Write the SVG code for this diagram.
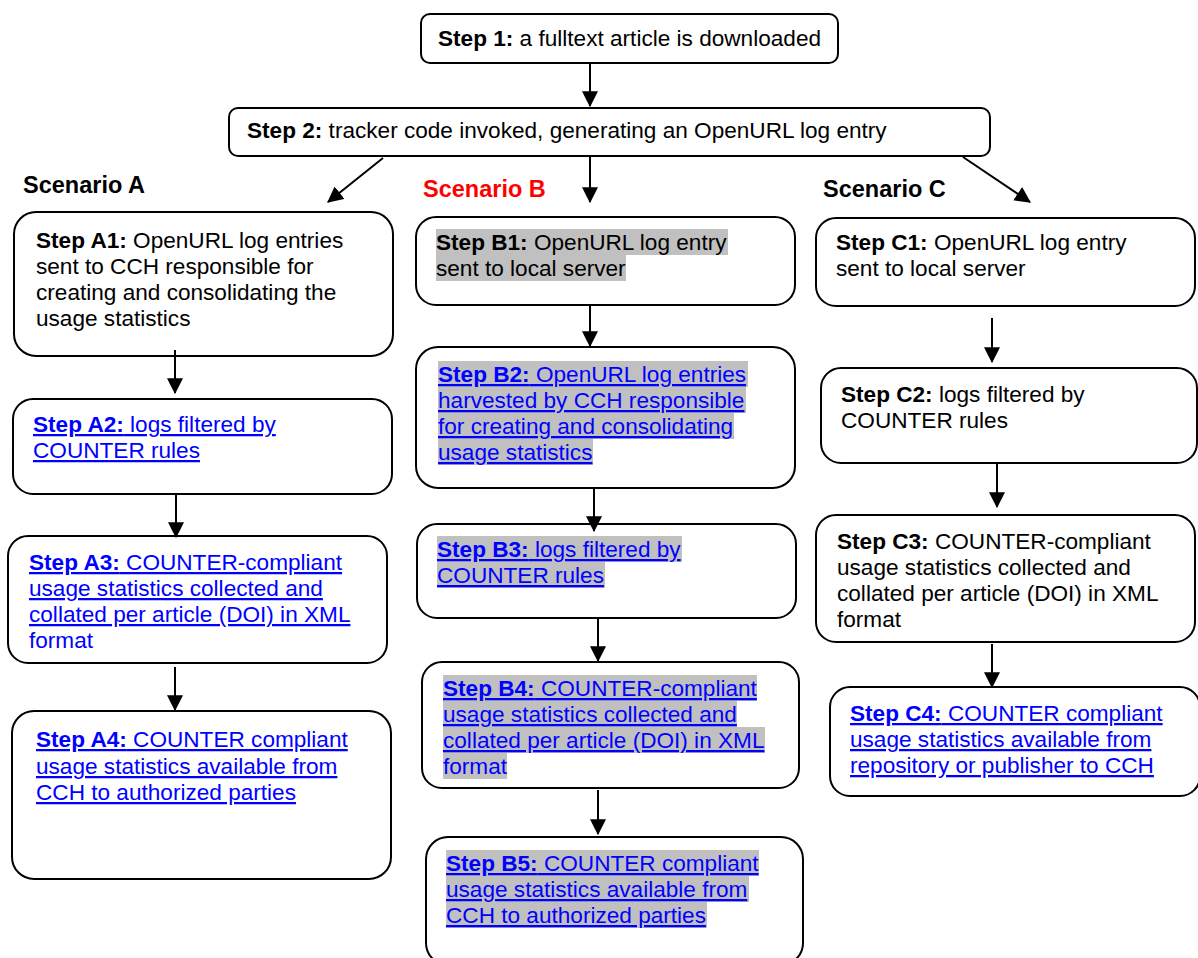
<svg xmlns="http://www.w3.org/2000/svg" width="1198" height="958" viewBox="0 0 1198 958">
<style>
.box{fill:#fff;stroke:#000;stroke-width:2}
.t{font-family:"Liberation Sans",Arial,sans-serif;font-size:22.6px;fill:#000}
.lnk{fill:#0000FF}
.u{text-decoration:underline}
.b{font-weight:bold}
.hl{fill:#C0C0C0}
.sc{font-family:"Liberation Sans",Arial,sans-serif;font-size:23.5px;font-weight:bold;fill:#000}
.conn line{stroke:#000;stroke-width:2;marker-end:url(#ah)}
</style>
<defs>
<marker id="ah" markerUnits="userSpaceOnUse" markerWidth="16" markerHeight="16" viewBox="0 0 14 14" refX="13" refY="7" orient="auto">
<path d="M0,0 L14,7 L0,14 Z" fill="#000"/>
</marker>
</defs>
<rect width="1198" height="958" fill="#fff"/>

<g id="step1">
<rect class="box" x="421" y="14" width="417" height="49" rx="9"/>
<text class="t" x="438" y="46"><tspan class="b">Step 1:</tspan> a fulltext article is downloaded</text>
</g>
<g id="step2">
<rect class="box" x="229" y="108" width="761" height="48" rx="9"/>
<text class="t" x="247" y="138"><tspan class="b">Step 2:</tspan> tracker code invoked, generating an OpenURL log entry</text>
</g>

<g id="scenarioA"><text class="sc" x="23" y="193">Scenario A</text></g>
<g id="scenarioB"><text class="sc" x="423" y="197" style="fill:#FF0000">Scenario B</text></g>
<g id="scenarioC"><text class="sc" x="823" y="197">Scenario C</text></g>

<g id="stepA1">
<rect class="box" x="14" y="212" width="379" height="144" rx="22"/>
<text class="t" x="36" y="248"><tspan class="b">Step A1:</tspan> OpenURL log entries</text>
<text class="t" x="36" y="274">sent to CCH responsible for</text>
<text class="t" x="36" y="300">creating and consolidating the</text>
<text class="t" x="36" y="326">usage statistics</text>
</g>
<g id="stepA2">
<rect class="box" x="13" y="399" width="379" height="95" rx="20"/>
<text class="t lnk u" x="33" y="432"><tspan class="b">Step A2:</tspan> logs filtered by</text>
<text class="t lnk u" x="33" y="458">COUNTER rules</text>
</g>
<g id="stepA3">
<rect class="box" x="8" y="536" width="379" height="127" rx="20"/>
<text class="t lnk u" x="29" y="570"><tspan class="b">Step A3:</tspan> COUNTER-compliant</text>
<text class="t lnk u" x="29" y="596">usage statistics collected and</text>
<text class="t lnk u" x="29" y="622">collated per article (DOI) in XML</text>
<text class="t lnk" x="29" y="648">format</text>
</g>
<g id="stepA4">
<rect class="box" x="12" y="711" width="379" height="168" rx="22"/>
<text class="t lnk u" x="36" y="747"><tspan class="b">Step A4:</tspan> COUNTER compliant</text>
<text class="t lnk u" x="36" y="774">usage statistics available from</text>
<text class="t lnk u" x="36" y="800">CCH to authorized parties</text>
</g>

<g id="stepB1">
<rect class="box" x="416" y="217" width="379" height="88" rx="20"/>
<rect class="hl" x="436" y="229" width="292" height="26"/>
<rect class="hl" x="436" y="255" width="190" height="26"/>
<text class="t" x="436" y="250"><tspan class="b">Step B1:</tspan> OpenURL log entry</text>
<text class="t" x="436" y="276">sent to local server</text>
</g>
<g id="stepB2">
<rect class="box" x="416" y="347" width="379" height="141" rx="22"/>
<rect class="hl" x="438" y="361" width="310" height="26"/>
<rect class="hl" x="438" y="387" width="308" height="26"/>
<rect class="hl" x="438" y="413" width="296" height="26"/>
<rect class="hl" x="438" y="439" width="155" height="26"/>
<text class="t lnk u" x="438" y="382"><tspan class="b">Step B2:</tspan> OpenURL log entries</text>
<text class="t lnk u" x="438" y="408">harvested by CCH responsible</text>
<text class="t lnk u" x="438" y="434">for creating and consolidating</text>
<text class="t lnk u" x="438" y="460">usage statistics</text>
</g>
<g id="stepB3">
<rect class="box" x="417" y="524" width="379" height="94" rx="20"/>
<rect class="hl" x="437" y="536" width="245" height="26"/>
<rect class="hl" x="437" y="562" width="168" height="26"/>
<text class="t lnk u" x="437" y="557"><tspan class="b">Step B3:</tspan> logs filtered by</text>
<text class="t lnk u" x="437" y="583">COUNTER rules</text>
</g>
<g id="stepB4">
<rect class="box" x="422" y="662" width="377" height="126" rx="20"/>
<rect class="hl" x="443" y="675" width="314" height="26"/>
<rect class="hl" x="443" y="701" width="294" height="26"/>
<rect class="hl" x="443" y="727" width="322" height="26"/>
<rect class="hl" x="443" y="753" width="64" height="26"/>
<text class="t lnk u" x="443" y="696"><tspan class="b">Step B4:</tspan> COUNTER-compliant</text>
<text class="t lnk u" x="443" y="722">usage statistics collected and</text>
<text class="t lnk u" x="443" y="748">collated per article (DOI) in XML</text>
<text class="t lnk" x="443" y="774">format</text>
</g>
<g id="stepB5">
<rect class="box" x="426" y="837" width="377" height="128" rx="22"/>
<rect class="hl" x="446" y="850" width="313" height="26"/>
<rect class="hl" x="446" y="876" width="303" height="26"/>
<rect class="hl" x="446" y="902" width="261" height="26"/>
<text class="t lnk u" x="446" y="871"><tspan class="b">Step B5:</tspan> COUNTER compliant</text>
<text class="t lnk u" x="446" y="897">usage statistics available from</text>
<text class="t lnk u" x="446" y="923">CCH to authorized parties</text>
</g>

<g id="stepC1">
<rect class="box" x="816" y="218" width="379" height="88" rx="20"/>
<text class="t" x="836" y="250"><tspan class="b">Step C1:</tspan> OpenURL log entry</text>
<text class="t" x="836" y="276">sent to local server</text>
</g>
<g id="stepC2">
<rect class="box" x="821" y="368" width="376" height="95" rx="20"/>
<text class="t" x="841" y="402"><tspan class="b">Step C2:</tspan> logs filtered by</text>
<text class="t" x="841" y="428">COUNTER rules</text>
</g>
<g id="stepC3">
<rect class="box" x="816" y="515" width="379" height="127" rx="20"/>
<text class="t" x="837" y="549"><tspan class="b">Step C3:</tspan> COUNTER-compliant</text>
<text class="t" x="837" y="575">usage statistics collected and</text>
<text class="t" x="837" y="601">collated per article (DOI) in XML</text>
<text class="t" x="837" y="627">format</text>
</g>
<g id="stepC4">
<rect class="box" x="830" y="687" width="370" height="109" rx="20"/>
<text class="t lnk u" x="850" y="721"><tspan class="b">Step C4:</tspan> COUNTER compliant</text>
<text class="t lnk u" x="850" y="747">usage statistics available from</text>
<text class="t lnk u" x="850" y="773">repository or publisher to CCH</text>
</g>

<g id="connectors" class="conn">
<line x1="590" y1="63" x2="590" y2="106"/>
<line x1="383" y1="158" x2="328" y2="202"/>
<line x1="590" y1="156" x2="590" y2="202"/>
<line x1="963" y1="157" x2="1030" y2="202"/>
<line x1="175" y1="350" x2="175" y2="393"/>
<line x1="176" y1="494" x2="176" y2="537"/>
<line x1="175" y1="667" x2="175" y2="710"/>
<line x1="590" y1="305" x2="590" y2="346"/>
<line x1="594" y1="488" x2="594" y2="531"/>
<line x1="598" y1="618" x2="598" y2="661"/>
<line x1="598" y1="790" x2="598" y2="834"/>
<line x1="992" y1="318" x2="992" y2="362"/>
<line x1="997" y1="463" x2="997" y2="507"/>
<line x1="992" y1="644" x2="992" y2="687"/>
</g>
</svg>
